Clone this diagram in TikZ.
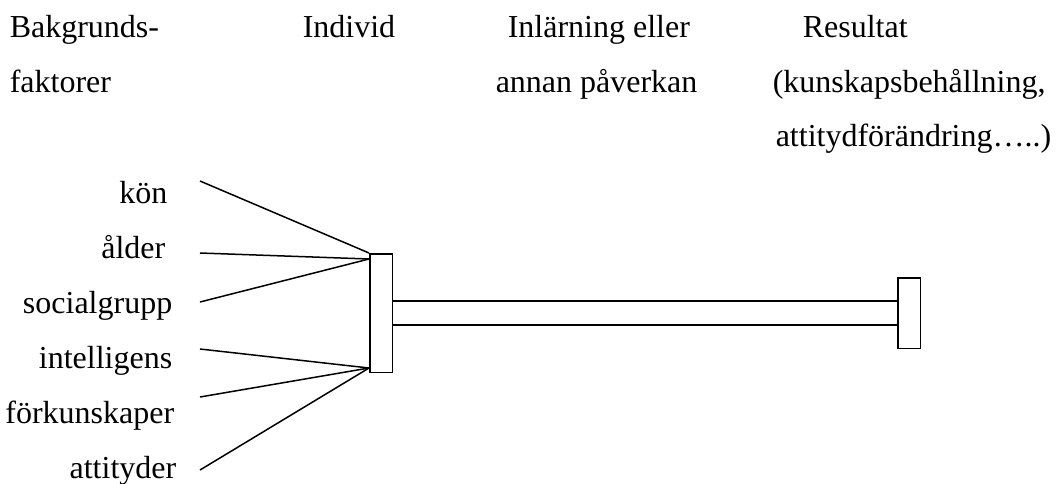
\documentclass[tikz,border=0pt]{standalone}
\usepackage{fontspec}
\setmainfont{Liberation Serif}
\usepackage{tikz}

\begin{document}
\begin{tikzpicture}[x=1pt,y=-1pt,line width=1.5pt,
	txt/.style={anchor=base west,inner sep=0pt,font=\fontsize{32}{38}\selectfont},
	lbl/.style={anchor=base east,inner sep=0pt,font=\fontsize{32}{38}\selectfont},
	box/.style={draw,inner sep=0pt,minimum width=22.5pt}]
		\useasboundingbox (0,0) rectangle (1061,483);
		% rubriker
		\node[txt] (bakgr) at (9,37) {Bakgrunds-};
		\node[txt] (faktor) at (9,92) {faktorer};
		\node[txt] (indiv) at (302,37) {Individ};
		\node[txt] (inlarn) at (507,37) {Inlärning eller};
		\node[txt] (annan) at (495,92) {annan påverkan};
		\node[txt] (result) at (802,37) {Resultat};
		\node[txt] (kunsk) at (772,92) {(kunskapsbehållning,};
		\node[txt] (attfor) at (775,146) {attitydförändring…..)};
		% bakgrundsfaktorer
		\node[lbl] (kon) at (168,203) {kön};
		\node[lbl] (alder) at (166,258) {ålder};
		\node[lbl] (social) at (173,313) {socialgrupp};
		\node[lbl] (intell) at (173,368) {intelligens};
		\node[lbl] (forkun) at (175,423) {förkunskaper};
		\node[lbl] (attit) at (177,478) {attityder};
		% boxar
		\node[box,minimum height=118.5pt] (indbox) at (381,313) {};
		\node[box,minimum height=70.5pt] (resbox) at (909,313) {};
		\draw (indbox.east |- 0,301) -- (resbox.west |- 0,301);
		\draw (indbox.east |- 0,325) -- (resbox.west |- 0,325);
		% linjer
		\coordinate (upp) at (369,259);
		\coordinate (ner) at (369,368);
		\coordinate (k1) at (200,181);
		\coordinate (k2) at (200,253);
		\coordinate (k3) at (200,302);
		\coordinate (k4) at (200,349);
		\coordinate (k5) at (200,397);
		\coordinate (k6) at (200,470);
		\draw (k1) -- (indbox.north west);
		\draw (k2) -- (upp);
		\draw (k3) -- (upp);
		\draw (k4) -- (ner);
		\draw (k5) -- (ner);
		\draw (k6) -- (ner);
	\end{tikzpicture}
\end{document}
